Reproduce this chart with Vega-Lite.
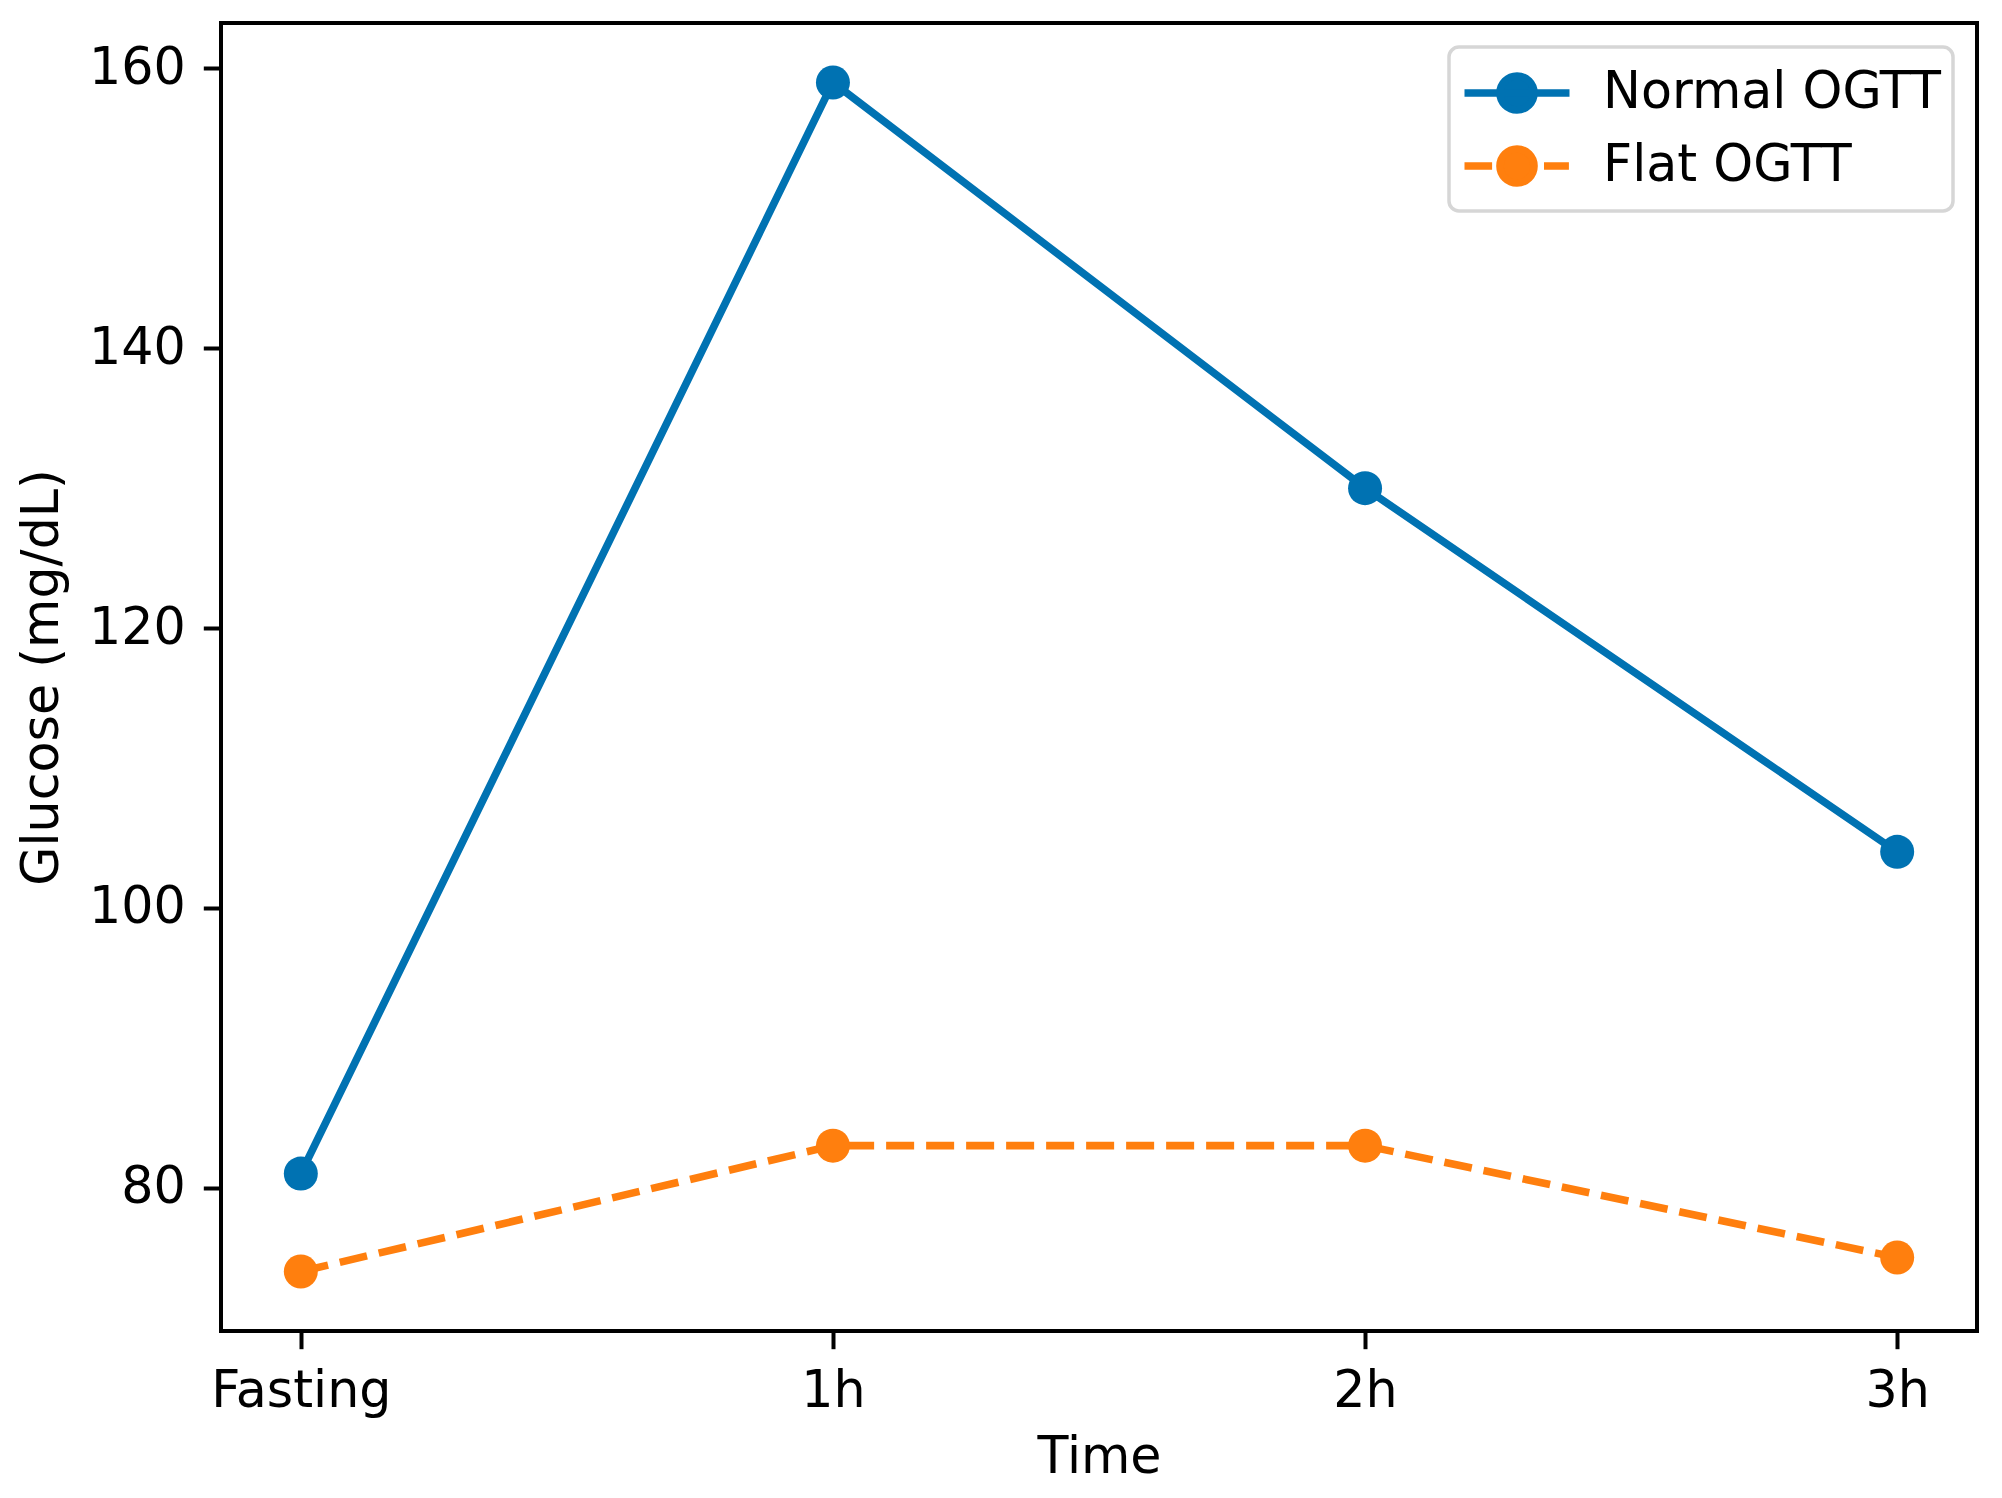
{
  "$schema": "https://vega.github.io/schema/vega-lite/v6.json",
  "autosize": {"type": "none"},
  "padding": {"left": 221, "top": 23, "right": 25, "bottom": 167},
  "width": 1756,
  "height": 1308,
  "background": "white",
  "data": {
    "values": [
      {"time": "Fasting", "test": "Normal OGTT", "glucose": 81},
      {"time": "1h", "test": "Normal OGTT", "glucose": 159},
      {"time": "2h", "test": "Normal OGTT", "glucose": 130},
      {"time": "3h", "test": "Normal OGTT", "glucose": 104},
      {"time": "Fasting", "test": "Flat OGTT", "glucose": 74},
      {"time": "1h", "test": "Flat OGTT", "glucose": 83},
      {"time": "2h", "test": "Flat OGTT", "glucose": 83},
      {"time": "3h", "test": "Flat OGTT", "glucose": 75}
    ]
  },
  "encoding": {
    "x": {
      "field": "time",
      "type": "ordinal",
      "sort": ["Fasting", "1h", "2h", "3h"],
      "scale": {"type": "point", "padding": 0.15},
      "axis": {"title": "Time", "labelAngle": 0, "titlePadding": 16}
    },
    "y": {
      "field": "glucose",
      "type": "quantitative",
      "scale": {"domain": [69.75, 163.25], "nice": false, "zero": false},
      "axis": {"title": "Glucose (mg/dL)", "values": [80, 100, 120, 140, 160], "titlePadding": 20}
    },
    "color": {
      "field": "test",
      "type": "nominal",
      "scale": {"domain": ["Normal OGTT", "Flat OGTT"], "range": ["#0072B2", "#FF7F0E"]},
      "legend": {
        "title": null,
        "orient": "top-right",
        "offset": 24,
        "padding": 12,
        "symbolOffset": 22,
        "symbolSize": 3600,
        "symbolStrokeWidth": 7.6,
        "labelOffset": 52,
        "rowPadding": 6,
        "labelLimit": 1000,
        "encode": {
          "symbols": {
            "update": {
              "shape": {"signal": "datum.value === 'Flat OGTT' ? 'M-1.75,0L-0.83,0M0.9,0L1.73,0M-0.567,0A0.567,0.567,0,1,1,0.567,0A0.567,0.567,0,1,1,-0.567,0Z' : 'M-1.75,0L1.75,0M-0.567,0A0.567,0.567,0,1,1,0.567,0A0.567,0.567,0,1,1,-0.567,0Z'"},
              "fill": {"scale": "color", "field": "value"},
              "stroke": {"scale": "color", "field": "value"},
              "strokeWidth": {"value": 7.6},
              "opacity": {"value": 1}
            }
          }
        }
      }
    }
  },
  "layer": [
    {
      "transform": [{"filter": "datum.test === 'Normal OGTT'"}],
      "mark": {"type": "line", "strokeWidth": 7.6, "strokeCap": "butt"}
    },
    {
      "transform": [{"filter": "datum.test === 'Flat OGTT'"}],
      "mark": {"type": "line", "strokeWidth": 7.6, "strokeCap": "butt", "strokeDash": [28, 12]}
    },
    {
      "mark": {"type": "point", "filled": true, "opacity": 1, "size": 1156, "shape": "circle"}
    }
  ],
  "config": {
    "font": "DejaVu Sans",
    "view": {"stroke": "black", "strokeWidth": 4},
    "axis": {
      "domain": false,
      "grid": false,
      "labelFont": "DejaVu Sans",
      "titleFont": "DejaVu Sans",
      "labelFontSize": 50.7,
      "titleFontSize": 50.7,
      "labelFontWeight": "normal",
      "titleFontWeight": "normal",
      "labelColor": "black",
      "titleColor": "black",
      "tickColor": "black",
      "tickSize": 17.7,
      "tickWidth": 4,
      "labelPadding": 18,
      "labelLimit": 1000
    },
    "legend": {
      "labelFont": "DejaVu Sans",
      "labelFontSize": 50.7,
      "labelColor": "black",
      "strokeColor": "#d6d6d6",
      "strokeWidth": 3.5,
      "fillColor": "rgba(255,255,255,0.8)",
      "cornerRadius": 10
    }
  }
}
